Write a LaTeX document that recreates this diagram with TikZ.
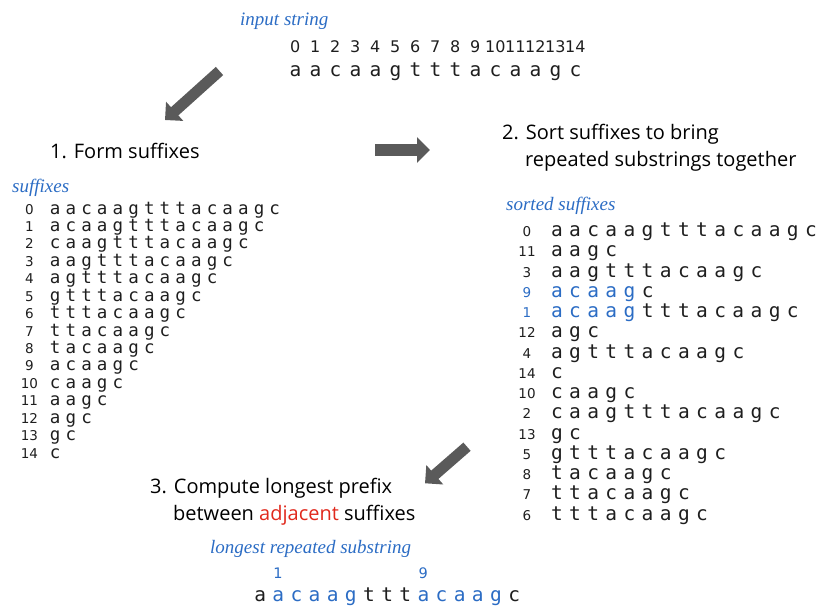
\documentclass[tikz,border=0pt]{standalone}
\usepackage{fontspec}
\usetikzlibrary{arrows.meta}
\newfontfamily\comic{Open Sans}
\newfontfamily\mono{DejaVu Sans Mono}
\newfontfamily\idx{DejaVu Sans}
\newfontfamily\lblfont{Liberation Serif}
\definecolor{lblue}{HTML}{2B6CC4}
\definecolor{lred}{HTML}{E0281C}
\definecolor{agray}{HTML}{5A5A5A}
\definecolor{ink}{HTML}{1E1E1E}
\def\pw{18pt}
\def\Lsp#1{\ifx#1\relax\else\makebox[\pw][c]{#1}\expandafter\Lsp\fi}
\newcommand\row[1]{\expandafter\Lsp#1\relax}
\tikzset{
  seqsmall/.style={inner sep=0, anchor=base west, text=ink, font=\mono\fontsize{17.5pt}{17.5pt}\selectfont, execute at begin node=\def\pw{15.68pt}},
  seqsorted/.style={inner sep=0, anchor=base west, text=ink, font=\mono\fontsize{19.5pt}{19.5pt}\selectfont, execute at begin node=\def\pw{18.15pt}},
  seqtop/.style={inner sep=0, anchor=base west, text=ink, font=\mono\fontsize{19.5pt}{19.5pt}\selectfont, execute at begin node=\def\pw{20pt}},
  seqbot/.style={inner sep=0, anchor=base west, text=ink, font=\mono\fontsize{19.5pt}{19.5pt}\selectfont, execute at begin node=\def\pw{18.14pt}},
  idxsmall/.style={inner sep=0, anchor=base, text=ink, font=\idx\fontsize{13.5pt}{13.5pt}\selectfont},
  idxtop/.style={inner sep=0, anchor=base, text=ink, font=\idx\fontsize{16pt}{16pt}\selectfont},
  idxbot/.style={inner sep=0, anchor=base, text=lblue, font=\idx\fontsize{14.5pt}{14.5pt}\selectfont},
  steptext/.style={inner sep=0, anchor=base west, font=\comic\fontsize{20pt}{20pt}\selectfont},
  bluelabel/.style={inner sep=0, anchor=base west, text=lblue, font=\lblfont\itshape\fontsize{19pt}{19pt}\selectfont},
  bigarrow/.style={draw=agray, line width=11pt, -{Triangle[width=25pt,length=13pt]}},
}
\begin{document}
\begin{tikzpicture}[x=1pt,y=-1pt]
\useasboundingbox (0,0) rectangle (821,606);

% input string
\node[bluelabel] (lin) at (240,25) {input string};
\foreach \k in {0,...,14} {
  \node[idxtop] (d\k) at ({295.3+20*\k},52) {\k};
}
\node[seqtop] (input) at (285.3,76) {\row{aacaagtttacaagc}};

% step texts
\node[steptext] (s1) at (50,158) {1. Form suffixes};
\node[steptext] (s2a) at (502,139) {2. Sort suffixes to bring};
\node[steptext] (s2b) at (525,166) {repeated substrings together};
\node[steptext] (s3a) at (150,493) {3. Compute longest prefix};
\node[steptext] (s3b) at (173,520) {between \textcolor{lred}{adjacent} suffixes};

% suffixes
\node[bluelabel] (lsuf) at (12,192) {suffixes};
\foreach \s [count=\k from 0] in {aacaagtttacaagc,acaagtttacaagc,caagtttacaagc,aagtttacaagc,agtttacaagc,gtttacaagc,tttacaagc,ttacaagc,tacaagc,acaagc,caagc,aagc,agc,gc,c} {
  \node[idxsmall] (li\k) at (29.5,{214+17.43*\k}) {\k};
  \node[seqsmall] (l\k) at (47.2,{214+17.43*\k}) {\row{\s}};
}

% sorted suffixes
\node[bluelabel] (lsorted) at (506,210.7) {sorted suffixes};
\foreach \n/\pre/\post/\c [count=\k from 0] in {
  0//aacaagtttacaagc/ink, 11//aagc/ink, 3//aagtttacaagc/ink,
  9/acaag/c/lblue, 1/acaag/tttacaagc/lblue, 12//agc/ink,
  4//agtttacaagc/ink, 14//c/ink, 10//caagc/ink,
  2//caagtttacaagc/ink, 13//gc/ink, 5//gtttacaagc/ink,
  8//tacaagc/ink, 7//ttacaagc/ink, 6//tttacaagc/ink} {
  \node[idxsmall, text=\c] (ri\k) at (527,{236.7+20.24*\k}) {\n};
  \node[seqsorted] (r\k) at (547.6,{236.7+20.24*\k}) {\textcolor{\c}{\row{\pre}}\row{\post}};
}

% longest repeated substring
\node[bluelabel] (llrs) at (210,553) {longest repeated substring};
\node[idxbot] (b1) at (278.1,578) {1};
\node[idxbot] (b9) at (423.3,578) {9};
\node[seqbot] (bottom) at (250.9,601.7) {\row{a}\textcolor{lblue}{\row{acaag}}\row{ttt}\textcolor{lblue}{\row{acaag}}\row{c}};

% arrows
\coordinate (a1s) at (219.5,71);
\coordinate (a1e) at (165,120);
\coordinate (a2s) at (375,150);
\coordinate (a2e) at (430,150);
\coordinate (a3s) at (467,446.7);
\coordinate (a3e) at (425,483.3);
\draw[bigarrow] (a1s) -- (a1e);
\draw[bigarrow, line width=12pt] (a2s) -- (a2e);
\draw[bigarrow] (a3s) -- (a3e);
\end{tikzpicture}
\end{document}
